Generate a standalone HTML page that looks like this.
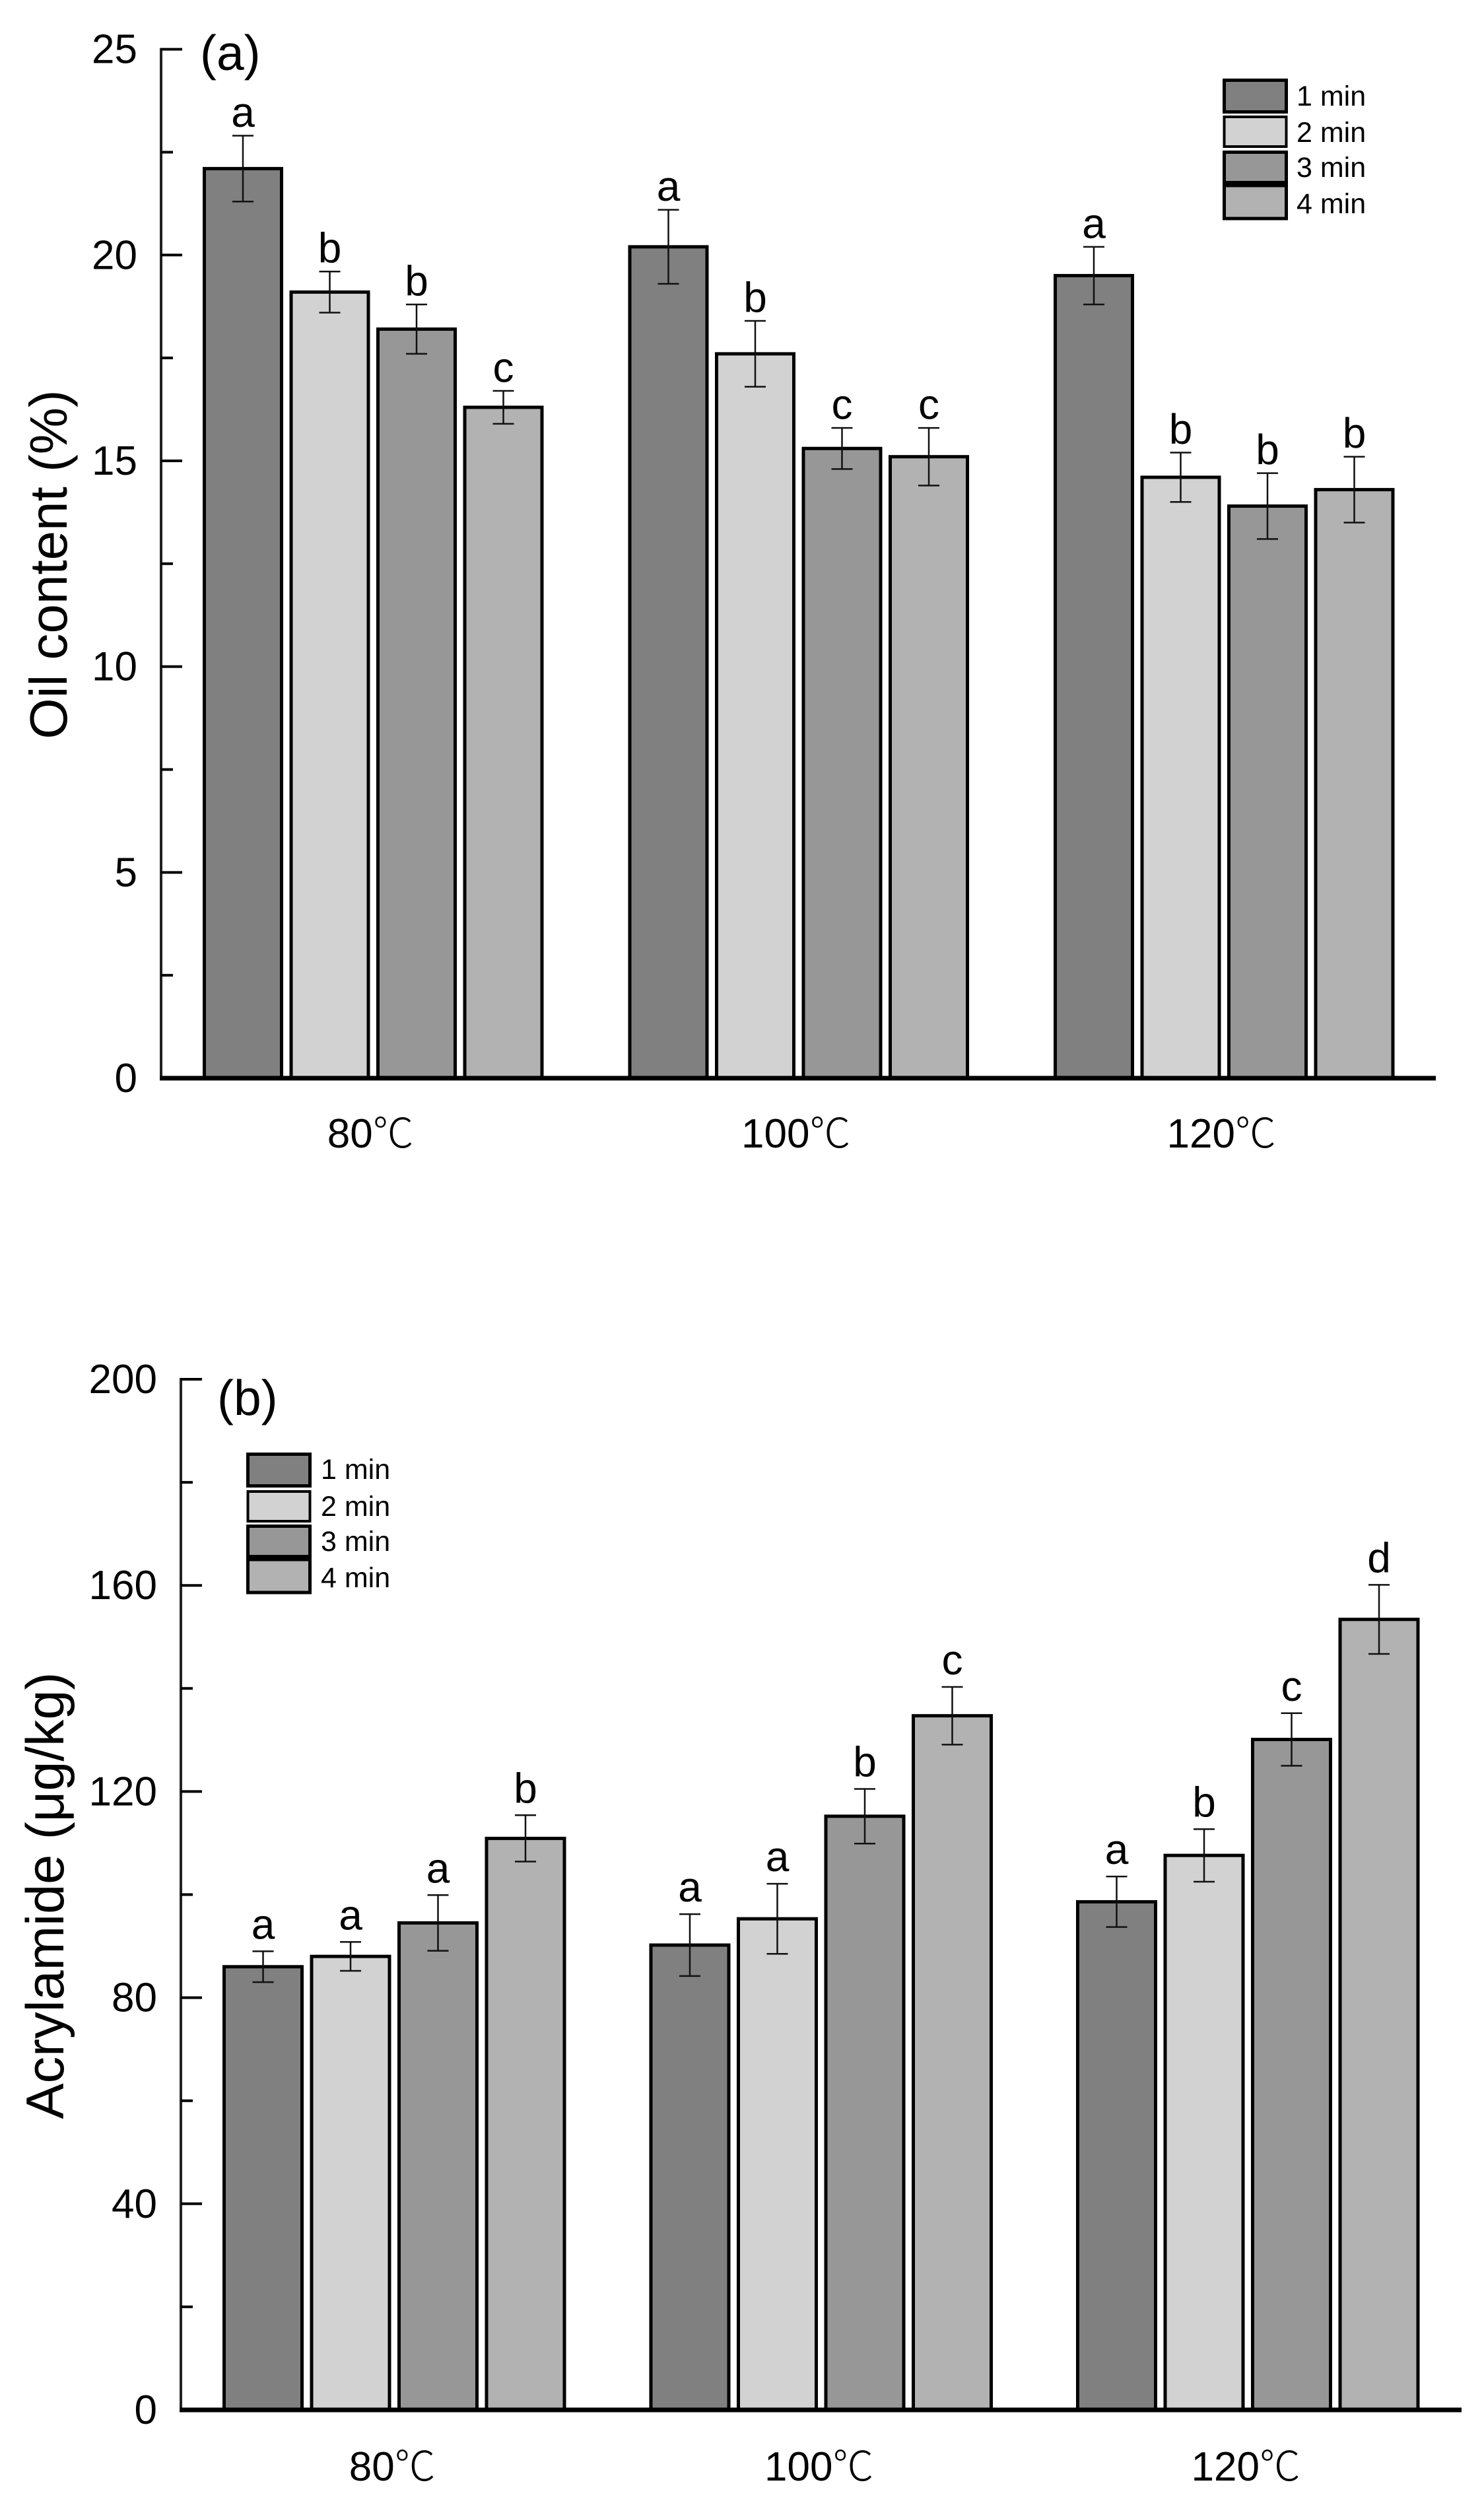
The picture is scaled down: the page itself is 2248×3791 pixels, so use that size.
<!DOCTYPE html>
<html lang="en">
<head>
<meta charset="utf-8">
<title>Oil content and acrylamide bar charts</title>
<style>
  html, body { margin: 0; padding: 0; background: #ffffff; }
  body { width: 2248px; height: 3791px; overflow: hidden; }
  svg { display: block; }
  text { font-family: "Liberation Sans", "Noto Sans CJK SC", sans-serif; fill: #000; }
  .legend-label { font-size: 43px; }
  .panel-label { font-size: 75px; }
  .axis-title { font-size: 80px; text-anchor: middle; }
  .axis-title-wide { font-size: 81px; text-anchor: middle; }
  .digits { font-family: "Liberation Sans", sans-serif; }
  .degree { font-family: "Noto Sans CJK SC", "Noto Sans CJK JP", sans-serif; font-weight: 300; }
</style>
</head>
<body>
<svg id="figure" xmlns="http://www.w3.org/2000/svg" width="2248" height="3791" viewBox="0 0 2248 3791">
  <rect x="0" y="0" width="2248" height="3791" fill="#ffffff"/>

  <g id="panel-a">
    <text class="panel-label" x="303" y="106">(a)</text>
    <text class="axis-title" transform="translate(101 855) rotate(-90)">Oil content (%)</text>
    <g>
      <rect x="1854.5" y="121.5" width="94" height="48" fill="#808080" stroke="#000" stroke-width="5"/>
      <rect x="1854.5" y="177" width="94" height="45" fill="#d2d2d2" stroke="#000" stroke-width="4"/>
      <rect x="1854.5" y="230.5" width="94" height="46" fill="#979797" stroke="#000" stroke-width="5"/>
      <rect x="1854.5" y="281" width="94" height="50" fill="#b2b2b2" stroke="#000" stroke-width="5"/>
      <text class="legend-label" x="1964" y="160">1 min</text>
      <text class="legend-label" x="1964" y="215">2 min</text>
      <text class="legend-label" x="1964" y="268">3 min</text>
      <text class="legend-label" x="1964" y="323">4 min</text>
    </g>
  </g>

  <g id="panel-b">
    <text class="panel-label" x="329" y="2143">(b)</text>
    <text class="axis-title-wide" transform="translate(96 2871) rotate(-90)">Acrylamide (μg/kg)</text>
    <g>
      <rect x="375.5" y="2202.5" width="94" height="48" fill="#808080" stroke="#000" stroke-width="5"/>
      <rect x="375.5" y="2259" width="94" height="45" fill="#d2d2d2" stroke="#000" stroke-width="4"/>
      <rect x="375.5" y="2311.5" width="94" height="46" fill="#979797" stroke="#000" stroke-width="5"/>
      <rect x="375.5" y="2362" width="94" height="50" fill="#b2b2b2" stroke="#000" stroke-width="5"/>
      <text class="legend-label" x="486" y="2240">1 min</text>
      <text class="legend-label" x="486" y="2296">2 min</text>
      <text class="legend-label" x="486" y="2349">3 min</text>
      <text class="legend-label" x="486" y="2404">4 min</text>
    </g>
  </g>
</svg>

<script>
// ---------- chart data ----------
const categoryTemperatures = ['80', '100', '120'];
const categoryUnit = '℃';
const seriesFills = ['#808080', '#d2d2d2', '#979797', '#b2b2b2'];

const oilTicks = [0, 5, 10, 15, 20, 25];
const oilMax = 25;
const oilMeans = [
  [22.1, 19.1, 18.2, 16.3],
  [20.2, 17.6, 15.3, 15.1],
  [19.5, 14.6, 13.9, 14.3]
];
const oilErrors = [
  [0.8, 0.5, 0.6, 0.4],
  [0.9, 0.8, 0.5, 0.7],
  [0.7, 0.6, 0.8, 0.8]
];
const oilLetters = [
  ['a', 'b', 'b', 'c'],
  ['a', 'b', 'c', 'c'],
  ['a', 'b', 'b', 'b']
];

const acrylamideTicks = [0, 40, 80, 120, 160, 200];
const acrylamideMax = 200;
const acrylamideMeans = [
  [86, 88, 94.5, 110.9],
  [90.2, 95.3, 115.2, 134.7],
  [98.6, 107.6, 130.1, 153.4]
];
const acrylamideErrors = [
  [3, 2.8, 5.4, 4.5],
  [6, 6.8, 5.3, 5.6],
  [4.9, 5.1, 5.1, 6.7]
];
const acrylamideLetters = [
  ['a', 'a', 'a', 'b'],
  ['a', 'a', 'b', 'c'],
  ['a', 'b', 'c', 'd']
];

// ---------- drawing ----------
const SVG_NS = 'http://www.w3.org/2000/svg';

function make(parent, tag, attrs, content) {
  const el = document.createElementNS(SVG_NS, tag);
  for (const key in attrs) el.setAttribute(key, attrs[key]);
  if (content !== undefined) el.textContent = content;
  parent.appendChild(el);
  return el;
}

function drawPanel(parent, layout, ticks, maxValue, means, errors, letters) {
  const y = v => layout.yZero - (v / maxValue) * (layout.yZero - layout.yTop);
  const barX = (g, s) => layout.xStart + g * layout.groupPitch + s * layout.barPitch;
  const barWidth = layout.barWidth;

  means.forEach((group, g) => {
    group.forEach((value, s) => {
      const left = barX(g, s);
      const cx = left + barWidth / 2;

      const bar = make(parent, 'rect', {
        x: left + 2.5,
        y: y(value),
        width: barWidth - 5,
        height: layout.yZero - y(value),
        fill: seriesFills[s],
        stroke: '#000',
        'stroke-width': 5
      });
      
      

      const top = y(value + errors[g][s]);
      const bottom = y(value - errors[g][s]);

      const stem = make(parent, 'line', { x1: cx, x2: cx, y1: top, y2: bottom, stroke: '#111', 'stroke-width': 2.5 });
      
      

      const capTop = make(parent, 'line', { x1: cx - 16, x2: cx + 16, y1: top, y2: top, stroke: '#111', 'stroke-width': 2.5 });
      
      

      const capBottom = make(parent, 'line', { x1: cx - 16, x2: cx + 16, y1: bottom, y2: bottom, stroke: '#111', 'stroke-width': 2.5 });
      
      

      const letter = make(parent, 'text', {
        x: cx + layout.letterShift,
        y: top - layout.letterGap,
        'text-anchor': 'middle',
        'font-size': 64
      }, letters[g][s]);
      
      
    });
  });

  // y axis spine
  const spine = make(parent, 'line', {
    x1: layout.xAxis, x2: layout.xAxis,
    y1: layout.yTop - 2, y2: layout.yZero + 3,
    stroke: '#222', 'stroke-width': 4
  });
  
  

  // x axis line
  const baseline = make(parent, 'line', {
    x1: layout.xAxis - 2, x2: layout.xEnd,
    y1: layout.yZero, y2: layout.yZero,
    stroke: '#000', 'stroke-width': 7
  });
  
  

  // major ticks and labels
  ticks.forEach(t => {
    if (t !== 0) {
      const tick = make(parent, 'line', {
        x1: layout.xAxis, x2: layout.xAxis + 32,
        y1: y(t), y2: y(t),
        stroke: '#000', 'stroke-width': 4
      });
      
      
    }
    const label = make(parent, 'text', {
      x: layout.xLabel,
      y: y(t) + 21,
      'text-anchor': 'end',
      'font-size': 62
    }, String(t));
    
    
  });

  // minor ticks halfway between majors
  for (let i = 0; i < ticks.length - 1; i++) {
    const mid = (ticks[i] + ticks[i + 1]) / 2;
    const minor = make(parent, 'line', {
      x1: layout.xAxis, x2: layout.xAxis + 18,
      y1: y(mid), y2: y(mid),
      stroke: '#000', 'stroke-width': 4
    });
    
    
  }

  // category labels
  categoryTemperatures.forEach((temperature, g) => {
    const groupCentre = (barX(g, 0) + barX(g, 3) + barWidth) / 2;
    const cat = make(parent, 'text', {
      x: groupCentre + layout.categoryShift,
      y: layout.yCategory,
      'text-anchor': 'middle',
      'font-size': 62
    });
    
    
    make(cat, 'tspan', { class: 'digits' }, temperature);
    make(cat, 'tspan', { class: 'degree' }, categoryUnit);
  });
}

const layoutA = { xAxis: 244, xEnd: 2175, yTop: 74.6, yZero: 1633, xStart: 307, groupPitch: 644.5, barPitch: 131.5, barWidth: 122, xLabel: 208, yCategory: 1738, letterGap: 13.5, letterShift: 0, categoryShift: -4 };
const layoutB = { xAxis: 274, xEnd: 2214, yTop: 2089, yZero: 3650, xStart: 337, groupPitch: 646.5, barPitch: 132.5, barWidth: 123, xLabel: 238, yCategory: 3757, letterGap: 19, letterShift: 0, categoryShift: -3 };

drawPanel(document.getElementById('panel-a'), layoutA, oilTicks, oilMax, oilMeans, oilErrors, oilLetters);
drawPanel(document.getElementById('panel-b'), layoutB, acrylamideTicks, acrylamideMax, acrylamideMeans, acrylamideErrors, acrylamideLetters);
</script>
</body>
</html>
